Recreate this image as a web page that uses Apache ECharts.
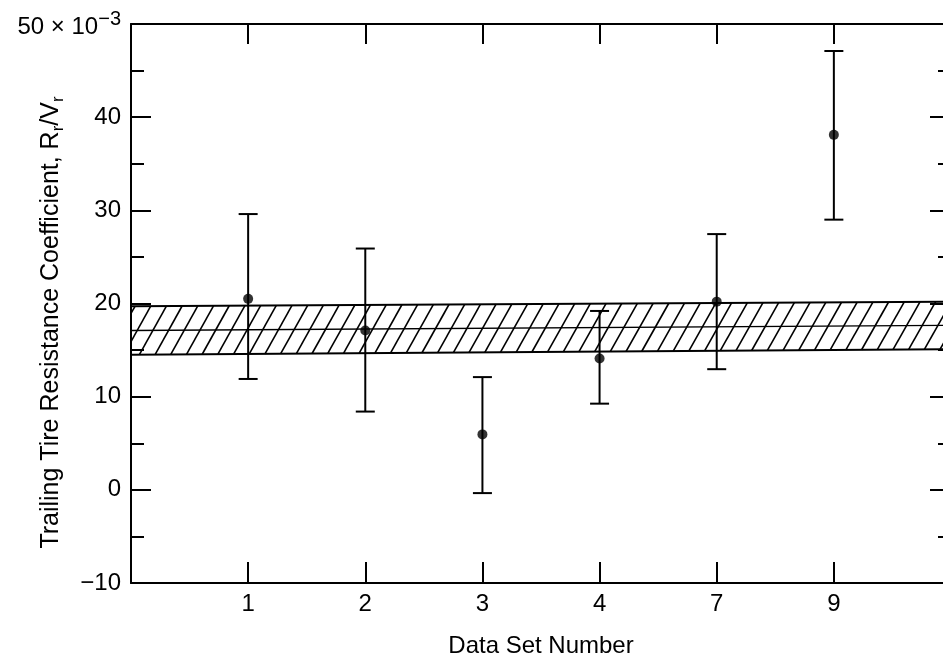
<!DOCTYPE html>
<html>
<head>
<meta charset="utf-8">
<script src="https://cdn.jsdelivr.net/npm/echarts@6/dist/echarts.min.js"></script>
<style>
  html, body { margin: 0; padding: 0; background: #fff; }
  #chart { width: 943px; height: 659px; }
</style>
</head>
<body>
<div id="chart"></div>
<script>
// Data sets along the horizontal axis, with mean and error-bar limits (×10⁻³)
const setLabels = ['1', '2', '3', '4', '7', '9'];
const meanValues = [20.5, 17.1, 5.95, 14.1, 20.2, 38.1];
const lowValues = [11.9, 8.4, -0.35, 9.25, 12.95, 29.0];
const highValues = [29.6, 25.9, 12.1, 19.2, 27.45, 47.1];

// Hatched band: lower, upper and centre values at the left and right frame edges
const bandX = [0, 7];
const bandLow = [14.5, 15.1];
const bandHigh = [19.7, 20.2];
const bandMid = [17.1, 17.65];

const FONT = "'Liberation Sans', Arial, Helvetica, sans-serif";
const INK = '#000';

const chart = echarts.init(document.getElementById('chart'), null, { renderer: 'canvas' });

function edgeLine(width) {
  return { show: true, onZero: false, lineStyle: { color: INK, width: width } };
}

// Band outline, centre line and diagonal hatching, all placed through the axes
function renderBand(params, api) {
  const tl = api.coord([bandX[0], bandHigh[0]]);
  const tr = api.coord([bandX[1], bandHigh[1]]);
  const bl = api.coord([bandX[0], bandLow[0]]);
  const br = api.coord([bandX[1], bandLow[1]]);
  const ml = api.coord([bandX[0], bandMid[0]]);
  const mr = api.coord([bandX[1], bandMid[1]]);
  const xL = tl[0], xR = tr[0];
  const yTop = x => tl[1] + (tr[1] - tl[1]) * (x - xL) / (xR - xL);
  const yBot = x => bl[1] + (br[1] - bl[1]) * (x - xL) / (xR - xL);

  const children = [];
  const step = 15.7, run = 27;
  for (let xb = xL - run + 4; xb < xR; xb += step) {
    const tMin = Math.max(0, (xL - xb) / run);
    const tMax = Math.min(1, (xR - xb) / run);
    if (tMin >= tMax) continue;
    const x0 = xb, y0 = yBot(xb);
    const x1 = xb + run, y1 = yTop(xb + run);
    children.push({
      type: 'line',
      shape: {
        x1: x0 + (x1 - x0) * tMin, y1: y0 + (y1 - y0) * tMin,
        x2: x0 + (x1 - x0) * tMax, y2: y0 + (y1 - y0) * tMax
      },
      style: { stroke: INK, lineWidth: 1.6 }
    });
  }
  children.push({ type: 'line', shape: { x1: ml[0], y1: ml[1], x2: mr[0], y2: mr[1] },
    style: { stroke: INK, lineWidth: 1.3 } });
  children.push({ type: 'line', shape: { x1: tl[0], y1: tl[1], x2: tr[0], y2: tr[1] },
    style: { stroke: INK, lineWidth: 2 } });
  children.push({ type: 'line', shape: { x1: bl[0], y1: bl[1], x2: br[0], y2: br[1] },
    style: { stroke: INK, lineWidth: 2 } });
  return { type: 'group', children: children };
}

// Vertical error bar with end caps
function renderErrorBar(params, api) {
  const x = api.value(0);
  const lo = api.coord([x, api.value(1)]);
  const hi = api.coord([x, api.value(2)]);
  const cap = 9.5;
  const st = { stroke: INK, lineWidth: 2 };
  return {
    type: 'group',
    children: [
      { type: 'line', shape: { x1: lo[0], y1: lo[1], x2: hi[0], y2: hi[1] }, style: st },
      { type: 'line', shape: { x1: lo[0] - cap, y1: lo[1], x2: lo[0] + cap, y2: lo[1] }, style: st },
      { type: 'line', shape: { x1: hi[0] - cap, y1: hi[1], x2: hi[0] + cap, y2: hi[1] }, style: st }
    ]
  };
}

const labelText = { color: INK, fontSize: 24, fontFamily: FONT };

const option = {
  backgroundColor: '#fff',
  animation: false,
  grid: { left: 131, right: -8, top: 24, bottom: 76, containLabel: false, outerBoundsMode: 'none' },
  xAxis: [
    {
      type: 'value', position: 'bottom', min: 0, max: 7, interval: 1,
      axisLine: edgeLine(2),
      axisTick: { show: true, inside: true, length: 21, lineStyle: { color: INK, width: 2 } },
      axisLabel: Object.assign({ margin: 9, formatter: v => setLabels[v - 1] || '' }, labelText),
      splitLine: { show: false },
      name: 'Data Set Number', nameLocation: 'middle', nameGap: 51, nameMoveOverlap: false,
      nameTextStyle: labelText
    },
    {
      type: 'value', position: 'top', min: 0, max: 7, interval: 1,
      axisLine: edgeLine(2),
      axisTick: { show: true, inside: true, length: 20, lineStyle: { color: INK, width: 2 } },
      axisLabel: { show: false },
      splitLine: { show: false }
    }
  ],
  yAxis: [
    {
      type: 'value', position: 'left', min: -10, max: 50, interval: 10,
      axisLine: edgeLine(2),
      axisTick: { show: true, inside: true, length: 20, lineStyle: { color: INK, width: 2 } },
      minorTick: { show: true, splitNumber: 2, length: 13, lineStyle: { color: INK, width: 2 } },
      axisLabel: Object.assign({
        margin: 10,
        formatter: v => v === 50 ? '{b|50 × 10}{s|−3}' : String(v).replace('-', '−'),
        rich: {
          b: { fontSize: 24, fontFamily: FONT, color: INK, lineHeight: 30, verticalAlign: 'bottom' },
          s: { fontSize: 20, fontFamily: FONT, color: INK, lineHeight: 20, verticalAlign: 'top' }
        }
      }, labelText),
      splitLine: { show: false },
      minorSplitLine: { show: false },
      name: '{t|Trailing Tire Resistance Coefficient, R}{s|r}{t|/V}{s|r}',
      nameLocation: 'middle', nameRotate: 90, nameGap: 64, nameMoveOverlap: false,
      nameTextStyle: Object.assign({
        padding: [0, 38, 0, 0],
        rich: {
          t: { fontSize: 25, fontFamily: FONT, color: INK, lineHeight: 32 },
          s: { fontSize: 17, fontFamily: FONT, color: INK, lineHeight: 17, verticalAlign: 'bottom' }
        }
      }, labelText)
    },
    {
      type: 'value', position: 'right', min: -10, max: 50, interval: 10,
      axisLine: edgeLine(2),
      axisTick: { show: true, inside: true, length: 21, lineStyle: { color: INK, width: 2 } },
      minorTick: { show: true, splitNumber: 2, length: 13, lineStyle: { color: INK, width: 2 } },
      axisLabel: { show: false },
      splitLine: { show: false },
      minorSplitLine: { show: false }
    }
  ],
  series: [
    {
      type: 'custom', name: 'band', xAxisIndex: 0, yAxisIndex: 0,
      renderItem: renderBand, data: [[bandX[0], bandMid[0]]], clip: true, z: 1, silent: true
    },
    {
      type: 'custom', name: 'range', xAxisIndex: 0, yAxisIndex: 0,
      renderItem: renderErrorBar,
      data: setLabels.map((_, i) => [i + 1, lowValues[i], highValues[i]]),
      encode: { x: 0, y: [1, 2] }, z: 2, silent: true
    },
    {
      type: 'scatter', name: 'mean', xAxisIndex: 0, yAxisIndex: 0,
      data: setLabels.map((_, i) => [i + 1, meanValues[i]]),
      symbol: 'circle', symbolSize: 10,
      itemStyle: { color: INK }, z: 3, silent: true
    }
  ]
};

chart.setOption(option);
</script>
</body>
</html>
